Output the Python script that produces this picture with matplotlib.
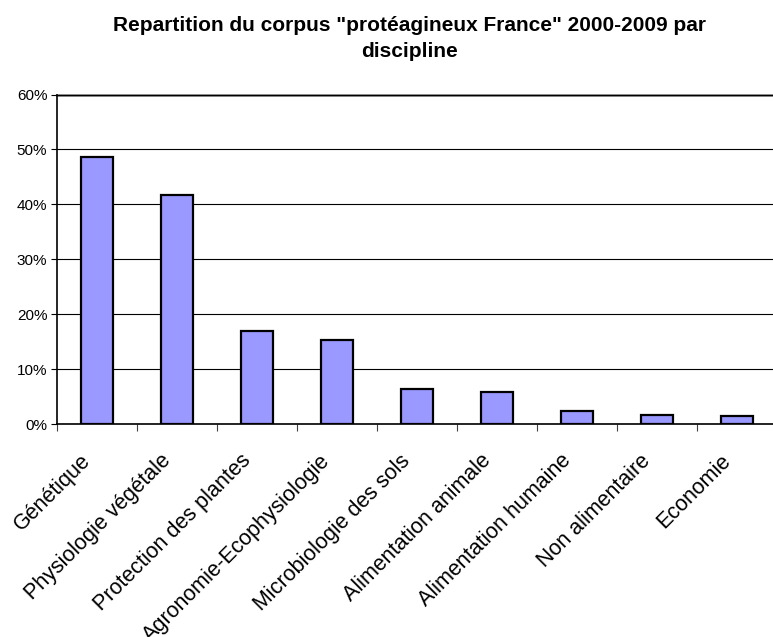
import matplotlib.pyplot as plt
import matplotlib.transforms as mtransforms
import numpy as np

plt.rcParams['font.family'] = ['Liberation Sans', 'DejaVu Sans']

disciplines = ['Génétique', 'Physiologie végétale', 'Protection des plantes',
               'Agronomie-Ecophysiologie', 'Microbiologie des sols',
               'Alimentation animale', 'Alimentation humaine',
               'Non alimentaire', 'Economie']
parts = [48.7, 41.7, 16.9, 15.3, 6.4, 5.9, 2.3, 1.6, 1.4]  # en %
yticks = [0, 10, 20, 30, 40, 50, 60]
title_lines = ['Repartition du corpus "protéagineux France" 2000-2009 par', 'discipline']

fig = plt.figure(figsize=(7.73, 6.37), dpi=100)
W, H = 773, 637
# plot area runs slightly past the right edge, as in the original export
ax = fig.add_axes([57 / W, (H - 424) / H, 720 / W, 329.5 / H])

x = np.arange(len(disciplines))
ax.bar(x, parts, width=0.41, color='#9999ff', edgecolor='black', linewidth=1.6, zorder=3)

ax.set_xlim(-0.5, len(disciplines) - 0.5)
ax.set_ylim(0, 60)
ax.set_yticks(yticks)
ax.set_yticklabels(['%d%%' % v for v in yticks], fontsize=11)
ax.yaxis.grid(True, color='black', linewidth=0.8, zorder=0)
ax.axhline(60, color='#808080', linewidth=2, zorder=1, clip_on=False)

# ticks between categories, labels at centers
ax.set_xticks(x - 0.5, minor=False)
ax.set_xticklabels([])
ax.set_xticks(x, minor=True)
ax.set_xticklabels(disciplines, minor=True, rotation=45, ha='right', va='top',
                   rotation_mode='anchor', fontsize=15.5)
ax.tick_params(axis='x', which='minor', length=0, pad=19)
ax.tick_params(axis='x', which='major', length=5, direction='out', color='#404040')
ax.tick_params(axis='y', length=4, direction='out', pad=3)
shift = mtransforms.ScaledTranslation(-0.17, 0, fig.dpi_scale_trans)
for lbl in ax.get_xticklabels(minor=True):
    lbl.set_transform(lbl.get_transform() + shift)

for s in ['top', 'right']:
    ax.spines[s].set_visible(False)
ax.spines['left'].set_linewidth(1.2)
ax.spines['bottom'].set_linewidth(1.2)

fig.text(410 / W, 1 - 31 / H, title_lines[0], ha='center', va='baseline',
         fontsize=15, fontweight='bold')
fig.text(410 / W, 1 - 57 / H, title_lines[1], ha='center', va='baseline',
         fontsize=15, fontweight='bold')

fig.savefig('out.png', dpi=100)
